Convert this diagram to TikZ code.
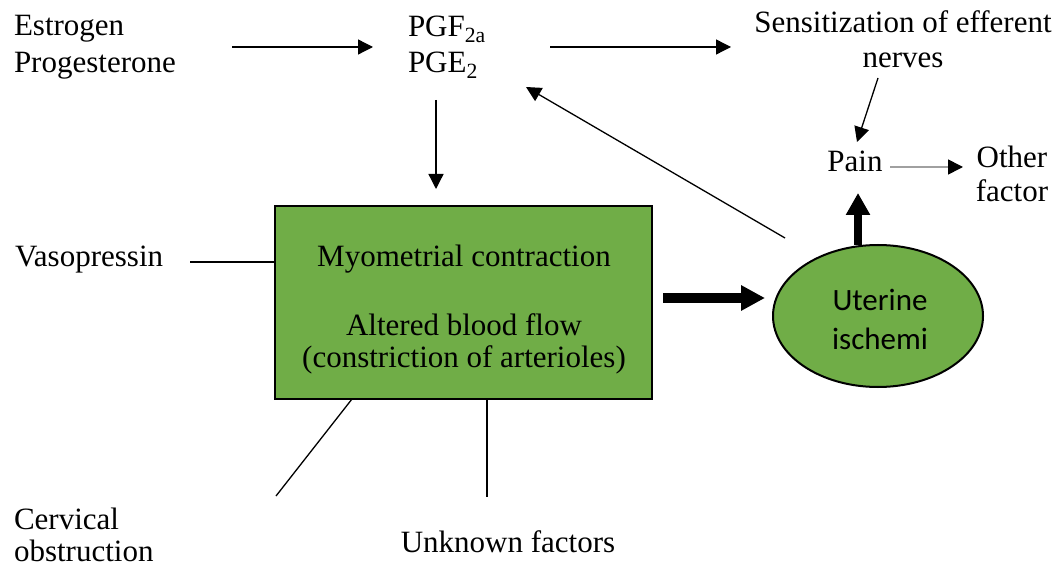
\documentclass[tikz,border=0pt]{standalone}
\usepackage{fontspec}
\setmainfont{Liberation Serif}
\newfontfamily\carl{Carlito}
\usetikzlibrary{arrows.meta,shapes.geometric}
\definecolor{boxgreen}{HTML}{70AD47}
\definecolor{lightline}{HTML}{A0A0A0}
\tikzset{
  lbl/.style={font=\fontsize{31}{37}\selectfont, inner sep=0pt, outer sep=0pt},
  conn/.style={line width=1.3pt, draw=black},
  arr/.style={conn, -{Triangle[length=15pt,width=15pt]}},
  grayarr/.style={line width=1.6pt, draw=lightline, -{Triangle[length=15pt,width=15pt,color=black]}},
  bigarr/.style={line width=10pt, draw=black, -{Triangle[length=24pt,width=24pt]}},
  uparr/.style={line width=8pt, draw=black, -{Triangle[length=22pt,width=23pt]}},
  greenbox/.style={draw=black, line width=2.5pt, fill=boxgreen, minimum width=377pt, minimum height=193pt, inner sep=0pt},
  greenell/.style={ellipse, draw=black, line width=2pt, fill=boxgreen, minimum width=210pt, minimum height=142pt, inner sep=0pt},
}
\begin{document}
\begin{tikzpicture}[x=1pt,y=-1pt]
\useasboundingbox (0,0) rectangle (1062,569);
% shapes
\node[greenbox] (box) at (463.5,302.5) {};
\node[greenell] (isch) at (878,316) {};
% texts (base anchor = baseline of the last line)
\node[lbl, anchor=base, align=center, font=\carl\fontsize{31}{39}\selectfont] (ischtxt) at (880,349) {Uterine\\ischemi};
\node[lbl, anchor=base west, align=left] (horm) at (14,73) {Estrogen\\Progesterone};
\node[lbl, anchor=base west, align=left, font=\fontsize{31}{36}\selectfont] (pg) at (408,73) {PGF\textsubscript{2a}\\PGE\textsubscript{2}};
\node[lbl, anchor=base, align=center, font=\fontsize{31}{35}\selectfont] (sens) at (903,68) {Sensitization of efferent\\nerves};
\node[lbl, anchor=base] (pain) at (855,172) {Pain};
\node[lbl, anchor=base, align=center, font=\fontsize{31}{34}\selectfont] (other) at (1012,202) {Other\\factor};
\node[lbl, anchor=base west] (vaso) at (15,266) {Vasopressin};
\node[lbl, anchor=base west, align=left, font=\fontsize{31}{32}\selectfont] (cerv) at (14,561) {Cervical\\obstruction};
\node[lbl, anchor=base] (unk) at (508,552) {Unknown factors};
\node[lbl, anchor=base, align=center, font=\fontsize{31}{32}\selectfont] (boxtxt) at (464,367) {Myometrial contraction\\[37pt]Altered blood flow\\(constriction of arterioles)};
% connector end points
\coordinate (hA) at (232,47);
\coordinate (hB) at (373,47);
\coordinate (pA) at (550,47);
\coordinate (pB) at (731,47);
\coordinate (dA) at (436,100);
\coordinate (dB) at (436,189);
\coordinate (nA) at (878,78);
\coordinate (nB) at (857,142);
\coordinate (oA) at (890,167);
\coordinate (oB) at (963,167);
\coordinate (uA) at (858,245);
\coordinate (uB) at (858,193);
\coordinate (rA) at (663,298);
\coordinate (rB) at (765,298);
\coordinate (fA) at (785,238);
\coordinate (fB) at (526,87);
\coordinate (vA) at (190,262);
\coordinate (cA) at (352,399);
\coordinate (cB) at (276,496);
\coordinate (kA) at (487,399);
\coordinate (kB) at (487,497);
% connectors
\draw[arr] (hA) -- (hB);
\draw[arr] (pA) -- (pB);
\draw[arr] (dA) -- (dB);
\draw[arr] (nA) -- (nB);
\draw[grayarr] (oA) -- (oB);
\draw[uparr] (uA) -- (uB);
\draw[bigarr] (rA) -- (rB);
\draw[arr] (fA) -- (fB);
\draw[conn] (vA) -- (vA -| box.west);
\draw[conn] (cA) -- (cB);
\draw[conn] (kA) -- (kB);
\end{tikzpicture}
\end{document}
